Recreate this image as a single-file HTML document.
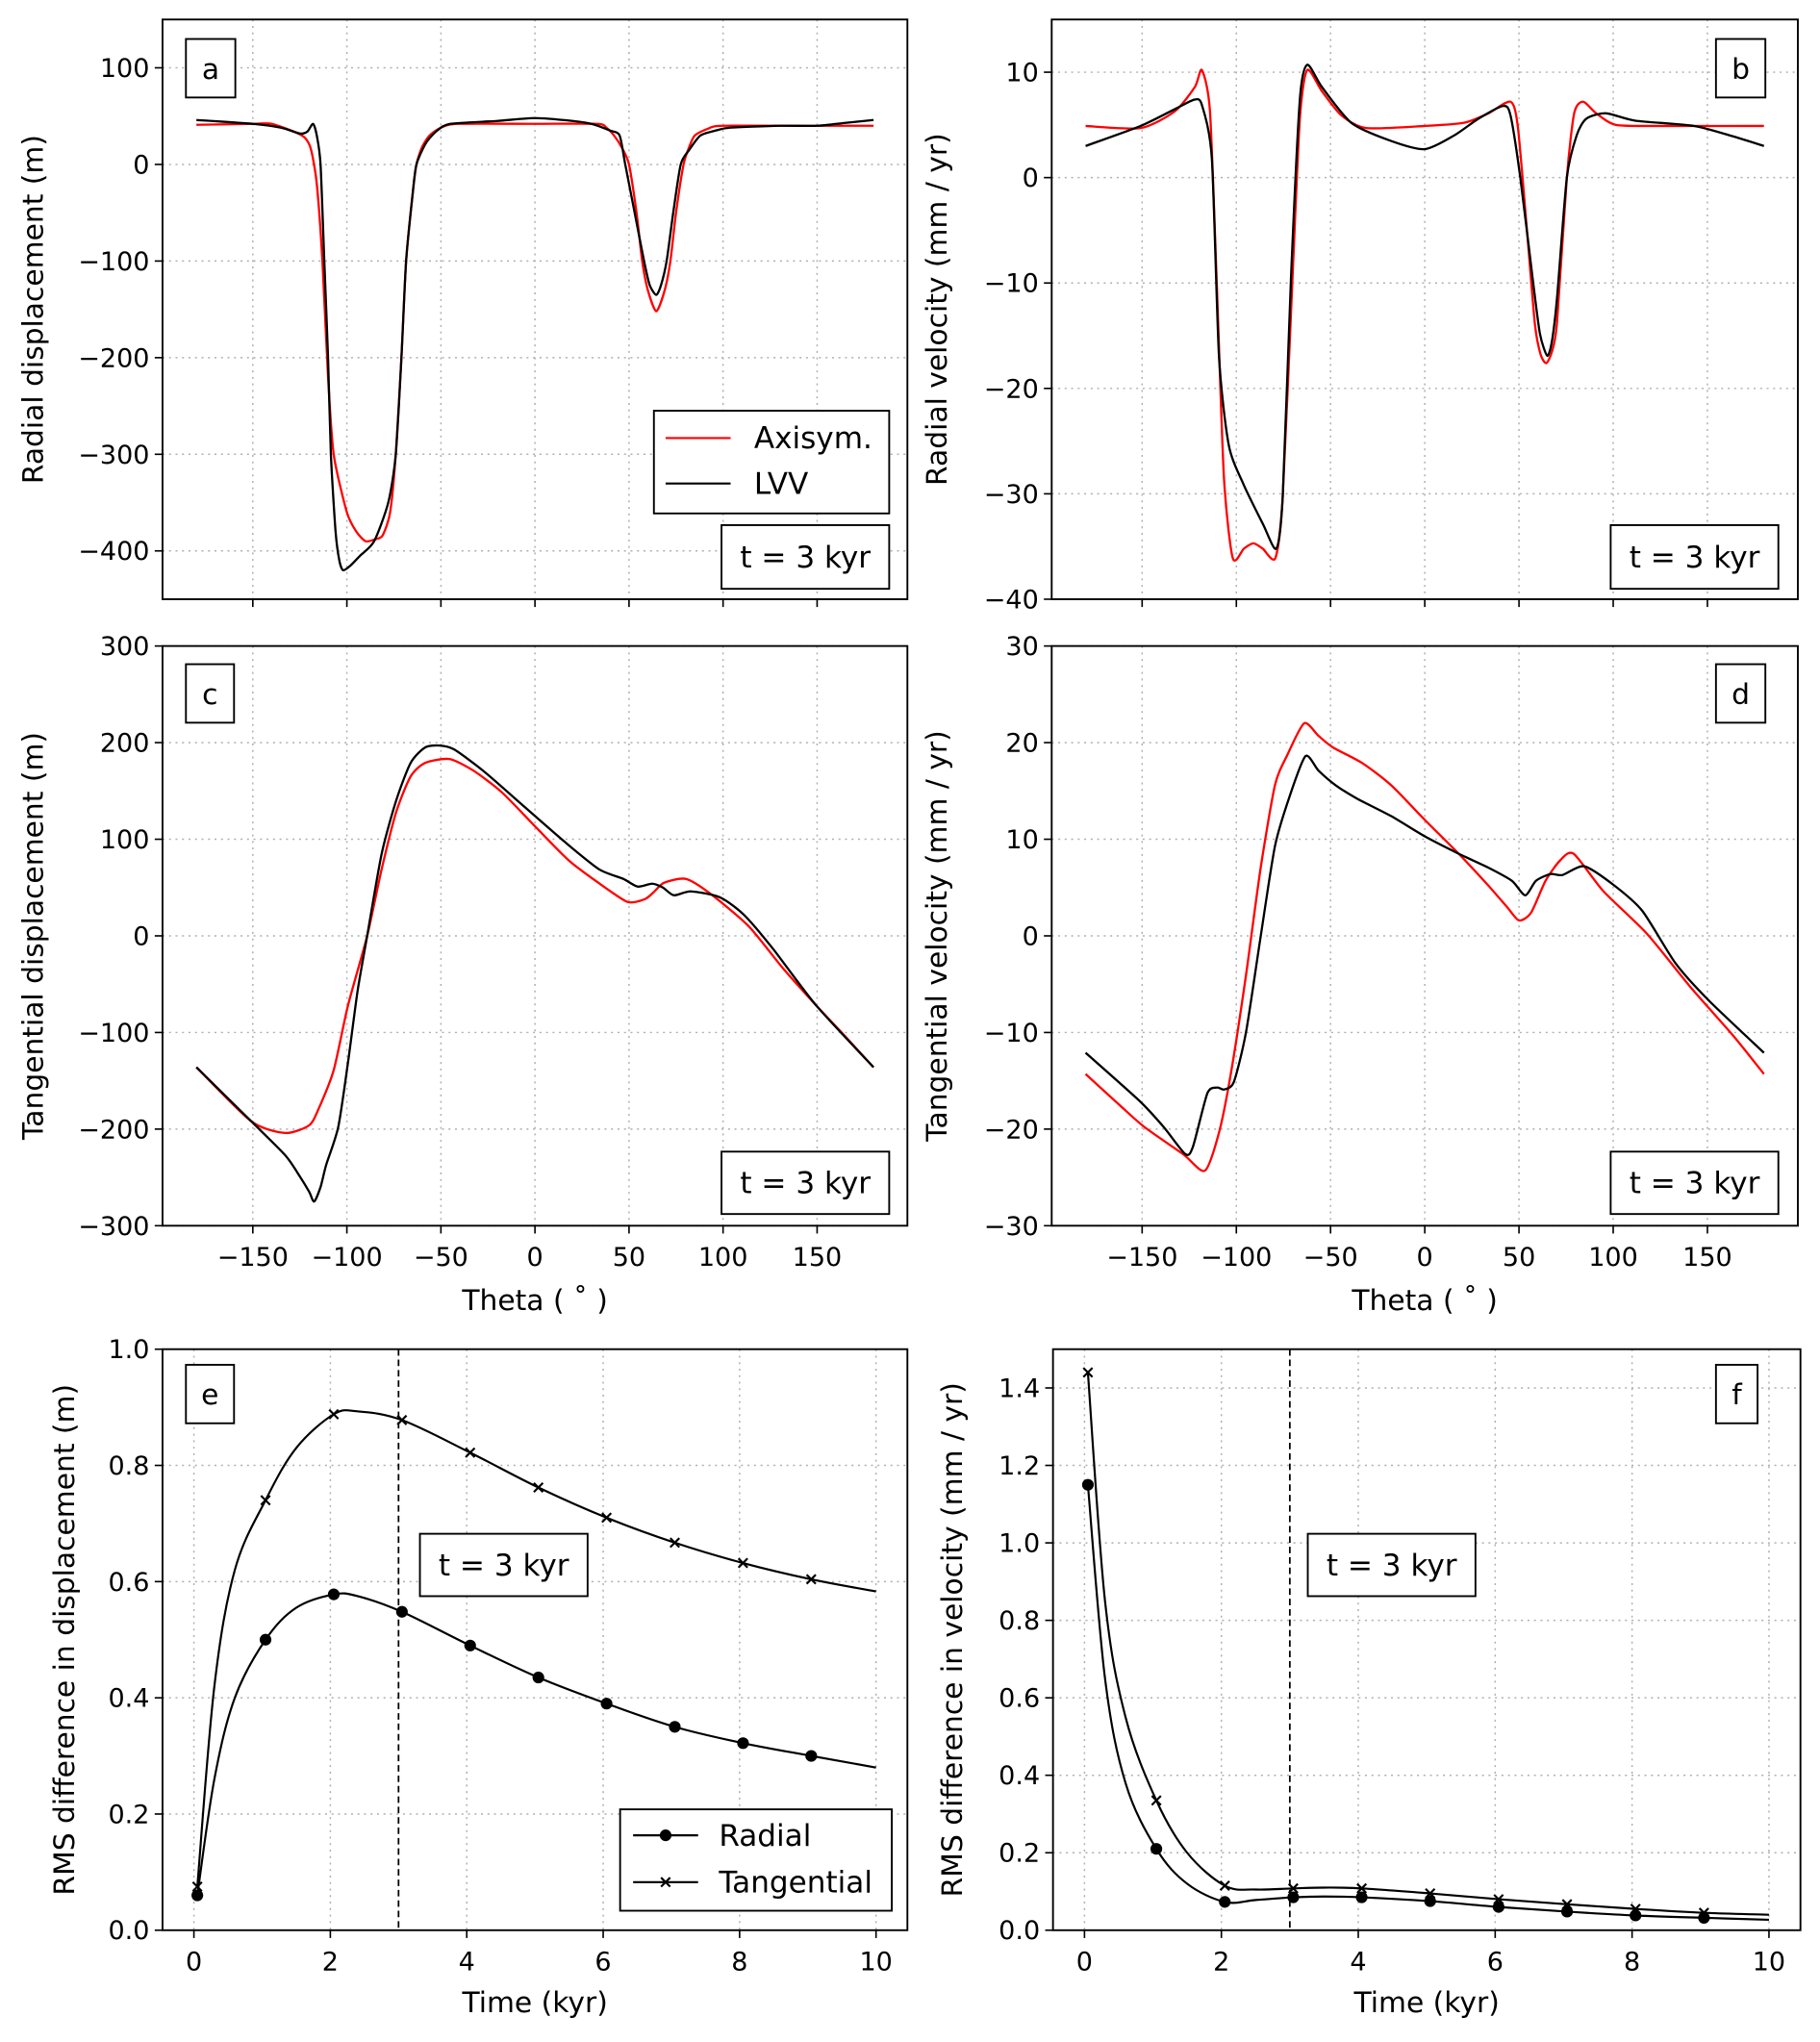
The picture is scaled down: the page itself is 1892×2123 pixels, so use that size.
<!DOCTYPE html>
<html><head><meta charset="utf-8"><style>
html,body{margin:0;padding:0;background:#fff}
svg{display:block}
text{font-family:"DejaVu Sans","Liberation Sans",sans-serif;fill:#000}
</style></head><body>
<svg id="fig" width="1892" height="2123" viewBox="0 0 1400 1571" xmlns="http://www.w3.org/2000/svg"></svg>
<script>
// ---- data (theta in degrees) ----
const aRedT=[-180,-150,-140,-127,-122,-119,-116,-113,-110,-107,-100,-95,-90,-85,-81,-77,-74,-71,-68.5,-65,-63,-60,-56,-50,-41,0,33,38,42,46,50,54,57,60,64.5,69,72,75,79,82,85,92,100,150,180];
const aRedV=[41,42,42,33,27,15,-20,-100,-220,-300,-360,-380,-390,-388,-384,-360,-300,-200,-100,-30,0,18,30,38,42,42,42,38,30,18,0,-50,-100,-130,-152,-130,-100,-50,0,18,30,37,40,40,40];
const aBlkT=[-180,-150,-135,-125,-121,-118,-116,-114,-112,-110,-108.5,-106,-104,-102,-98,-93,-85.5,-78,-74,-71,-68.5,-65,-63,-58,-52,-45,-20,0,20,30,40,45,48,53,58,61,64.5,67,70,73.5,77.5,82,88,96,103.6,130,150,165,180];
const aBlkV=[46,42,38,32,34,42,30,0,-100,-200,-300,-380,-410,-420,-415,-405,-390,-350,-300,-200,-100,-30,0,22,35,42,45,48,45,42,35,30,0,-50,-100,-125,-135,-125,-100,-50,0,15,30,35,38,40,40,43,46];
const bRedT=[-180,-150.8,-132.6,-122,-118.3,-114,-110.5,-106.6,-101.9,-96,-91,-86,-79.3,-75.4,-70.2,-66.3,-62.4,-54.6,-44.2,-31,0,20.8,33.8,45.5,49.4,54.6,58.5,61.5,64.5,67.5,70.2,75.4,79.3,84,91,101.4,124.8,180];
const bRedV=[4.9,4.7,6.3,8.6,10.2,6.3,-9.5,-28.4,-36.1,-35.2,-34.7,-35.2,-36.1,-30.3,-9.5,5.6,10.2,8.2,5.9,4.7,4.9,5.2,6.1,7.2,4.8,-5.8,-14,-16.8,-17.6,-16.5,-13.7,0,6.1,7.2,6.1,5,4.9,4.9];
const bBlkT=[-180,-150.8,-132.6,-122.2,-118.3,-113,-109.2,-104,-96.2,-85.8,-78.8,-75.4,-71,-66.3,-62.4,-54.6,-39,-18.2,0,15.6,28.6,41.6,45.5,50.7,57.2,61.1,65,67.5,70.2,75.4,80.6,85.8,96.2,111.8,143,163.8,180];
const bBlkV=[3.0,4.9,6.5,7.4,6.9,1.8,-17,-25.4,-29.1,-32.9,-35.2,-30.3,-9.5,7.4,10.7,8.6,5.2,3.5,2.7,4.0,5.6,6.8,5.9,0,-9.5,-14.8,-16.9,-15.5,-11.4,0,4.0,5.6,6.1,5.4,4.9,3.9,3.0];
const cRedT=[-180,-150.8,-132.8,-120,-114.8,-107,-99.4,-89.2,-81.5,-73.8,-66.1,-58.4,-45.5,-32.7,-17.3,0.7,18.6,36.6,49.4,58.4,63,68.7,80.2,93,113.6,131.6,149.5,164.9,180];
const cRedV=[-136,-192,-204,-196,-178,-139,-72,0,69,128,165,179,183,171,148,112,77,51,35,38,45,55,59,44,10,-33,-72,-104,-136];
const cBlkT=[-180,-150.8,-132.8,-125,-120,-117.4,-114,-111,-104.6,-99.4,-94.3,-89.2,-81.5,-73.8,-66.1,-58.4,-50.7,-43,-27.6,-7,16,34,46.9,54.6,62.3,68,73.8,82.8,98.2,111,126.4,149.5,180];
const cBlkV=[-136,-192,-227,-249,-265,-275,-260,-237,-198,-131,-57,0,85,140,179,195,197,193,171,136,97,69,59,51,54,50,42,46,40,22,-13,-72,-136];
const dRedT=[-180,-161.5,-148.7,-128.2,-116.7,-109,-102.6,-94.9,-87.2,-79.5,-73,-64,-56.4,-48.7,-33.3,-17.9,0,18,33.3,43.6,50,56.4,64.1,71.8,79,94.9,118,141,164,180];
const dRedV=[-14.3,-17.6,-19.8,-22.6,-24.3,-20.2,-13.9,-4.1,6.9,15.6,18.7,22,20.7,19.5,17.9,15.6,12,8.5,5.3,3,1.6,2.4,5.7,7.8,8.5,4.6,0.2,-5.3,-10.4,-14.3];
const dBlkT=[-180,-151.3,-138.5,-127,-123,-115.4,-110.3,-106.4,-101.3,-94.9,-87.2,-79.5,-71.8,-63.3,-56.4,-47.4,-35.9,-17.9,0,18,33.3,46.2,53.3,59,66.7,73.1,84.6,100,115.4,133.3,151.3,180];
const dBlkV=[-12.1,-17.1,-19.8,-22.6,-21.8,-16.3,-15.7,-15.9,-15.1,-10,-0.2,9.3,14.4,18.6,17.1,15.6,14.2,12.4,10.3,8.5,7.1,5.7,4.2,5.7,6.4,6.3,7.2,5.3,2.6,-2.9,-6.8,-12.1];
// RMS panels
const markT=[0.05,1.05,2.05,3.05,4.05,5.05,6.05,7.05,8.05,9.05];
const eRad=[0.06,0.50,0.578,0.548,0.49,0.435,0.39,0.35,0.322,0.30];
const eTan=[0.075,0.74,0.888,0.878,0.822,0.762,0.71,0.667,0.632,0.604];
const eCurveT=[0.05,0.3,0.6,1.05,1.5,2.05,2.4,3.05,4.05,5.05,6.05,7.05,8.05,9.05,10];
const eRadCurve=[0.06,0.26,0.40,0.50,0.555,0.578,0.575,0.548,0.49,0.435,0.39,0.35,0.322,0.30,0.28];
const eTanCurve=[0.075,0.42,0.62,0.74,0.83,0.888,0.893,0.878,0.822,0.762,0.71,0.667,0.632,0.604,0.583];
const fRad=[1.15,0.21,0.073,0.085,0.085,0.075,0.06,0.048,0.038,0.032];
const fTan=[1.44,0.335,0.115,0.108,0.108,0.095,0.08,0.067,0.055,0.045];
const fCurveT=[0.05,0.3,0.6,1.05,1.5,2.05,2.5,3.05,3.5,4.05,5.05,6.05,7.05,8.05,9.05,10];
const fRadCurve=[1.15,0.65,0.38,0.21,0.12,0.073,0.078,0.085,0.087,0.085,0.075,0.06,0.048,0.038,0.032,0.027];
const fTanCurve=[1.44,0.85,0.55,0.335,0.2,0.115,0.105,0.108,0.11,0.108,0.095,0.08,0.067,0.055,0.045,0.04];
const thetaTicks=[-150,-100,-50,0,50,100,150];
const aTicks=[100,0,-100,-200,-300,-400];
const bTicks=[10,0,-10,-20,-30,-40];
const cTicks=[300,200,100,0,-100,-200,-300];
const dTicks=[30,20,10,0,-10,-20,-30];
const eTicks=[0,0.2,0.4,0.6,0.8,1.0];
const fTicks=[0,0.2,0.4,0.6,0.8,1.0,1.2,1.4];
const timeTicks=[0,2,4,6,8,10];

const NS="http://www.w3.org/2000/svg";
const svg=document.getElementById('fig');
function el(tag,attrs,parent,txt){const e=document.createElementNS(NS,tag);for(const k in attrs)e.setAttribute(k,attrs[k]);if(txt!==undefined)e.textContent=txt;(parent||svg).appendChild(e);return e;}

function panel(name,L,T,R,B,x0,x1,y0,y1){
  const g=el('g',{});
  
  
  return {g,L,T,R,B,sx:v=>L+(v-x0)/(x1-x0)*(R-L),sy:v=>B-(v-y0)/(y1-y0)*(B-T)};
}
function grid(p,xt,yt){
  xt.forEach(v=>{const x=p.sx(v);const l=el('line',{x1:x,x2:x,y1:p.T,y2:p.B,stroke:'#b0b0b0','stroke-width':1.1,'stroke-dasharray':'1.5,3.5'},p.g);});
  yt.forEach(v=>{const y=p.sy(v);const l=el('line',{x1:p.L,x2:p.R,y1:y,y2:y,stroke:'#b0b0b0','stroke-width':1.1,'stroke-dasharray':'1.5,3.5'},p.g);});
}
function fmt(v,dec){const s=dec?v.toFixed(dec):String(v);return s.replace('-','\u2212');}
function axes(p,xt,yt,xlab,ydec,showX){
  xt.forEach(v=>{const x=p.sx(v);el('line',{x1:x,x2:x,y1:p.B,y2:p.B+6,stroke:'#000','stroke-width':1.2},p.g);
    if(showX){const t=el('text',{x:x,y:p.B+31,'font-size':20,'text-anchor':'middle'},p.g,fmt(v,0));}});
  yt.forEach(v=>{const y=p.sy(v);el('line',{x1:p.L-6,x2:p.L,y1:y,y2:y,stroke:'#000','stroke-width':1.2},p.g);
    const t=el('text',{x:p.L-10,y:y+7,'font-size':20,'text-anchor':'end'},p.g,fmt(v,ydec));});
}
function frame(p){const r=el('rect',{x:p.L,y:p.T,width:p.R-p.L,height:p.B-p.T,fill:'none',stroke:'#000','stroke-width':1.4},p.g);}
function smoothPath(p,xs,ys,k){
  const P=xs.map((x,i)=>[p.sx(x),p.sy(ys[i])]);
  let d='M'+P[0][0].toFixed(2)+','+P[0][1].toFixed(2);
  for(let i=0;i<P.length-1;i++){const p0=P[Math.max(0,i-1)],p1=P[i],p2=P[i+1],p3=P[Math.min(P.length-1,i+2)];
    d+='C'+(p1[0]+(p2[0]-p0[0])*k).toFixed(2)+','+(p1[1]+(p2[1]-p0[1])*k).toFixed(2)+' '+(p2[0]-(p3[0]-p1[0])*k).toFixed(2)+','+(p2[1]-(p3[1]-p1[1])*k).toFixed(2)+' '+p2[0].toFixed(2)+','+p2[1].toFixed(2);}
  return d;
}
function line(p,xs,ys,color,name){
  const pa=el('path',{d:smoothPath(p,xs,ys,0.12),fill:'none',stroke:color,'stroke-width':1.7,'stroke-linejoin':'round'},p.g);
  
  
}
function smooth(p,xs,ys,name){
  const pa=el('path',{d:smoothPath(p,xs,ys,1/6),fill:'none',stroke:'#000','stroke-width':1.6},p.g);
  
  
}
function box(p,x,y,w,h,txt,name,fs){
  const r=el('rect',{x:x,y:y,width:w,height:h,fill:'#fff',stroke:'#000','stroke-width':1.4},p.g);
  
  
  const t=el('text',{x:x+w/2,y:y+h/2+8,'font-size':fs||22,'text-anchor':'middle'},p.g,txt);
  
  
}
function ylabel(p,x,txt){const t=el('text',{x:x,y:(p.T+p.B)/2,'font-size':22,'text-anchor':'middle',transform:'rotate(-90 '+x+' '+(p.T+p.B)/2+')'},p.g,txt);}
function xlabel(p,y,txt){const t=el('text',{x:(p.L+p.R)/2,y:y,'font-size':22,'text-anchor':'middle'},p.g,txt);}
function markers(p,xs,ys,kind,name){
  xs.forEach((x,i)=>{const X=p.sx(x),Y=p.sy(ys[i]);let m;
    if(kind==='o'){m=el('circle',{cx:X,cy:Y,r:4.5,fill:'#000'},p.g);}
    else{m=el('path',{d:`M${X-3.5},${Y-3.5}L${X+3.5},${Y+3.5}M${X-3.5},${Y+3.5}L${X+3.5},${Y-3.5}`,stroke:'#000','stroke-width':1.6},p.g);}
    
    });
}
function vdash(p,x){const X=p.sx(x);const l=el('line',{x1:X,x2:X,y1:p.T,y2:p.B,stroke:'#000','stroke-width':1.3,'stroke-dasharray':'5,3'},p.g);}

// Panel a
let p=panel('panel-a',125,15,698,461,-198,198,-450,150);
grid(p,thetaTicks,aTicks);
line(p,aRedT,aRedV,'#ff0000','axisym-line');line(p,aBlkT,aBlkV,'#000','lvv-line');
frame(p);axes(p,thetaTicks,aTicks,null,0,false);ylabel(p,33,'Radial displacement (m)');
box(p,143,30,38,45,'a','panel-label-a');box(p,555,404,129,49,'t = 3 kyr','time-label-a',23);
{const r=el('rect',{x:503,y:316,width:181,height:79,fill:'#fff',stroke:'#000','stroke-width':1.4},p.g);
 el('line',{x1:512,x2:562,y1:337,y2:337,stroke:'#f00','stroke-width':1.6},p.g);
 let t=el('text',{x:580,y:345,'font-size':23},p.g,'Axisym.');
 el('line',{x1:512,x2:562,y1:372,y2:372,stroke:'#000','stroke-width':1.6},p.g);
 t=el('text',{x:580,y:380,'font-size':23},p.g,'LVV');}

// Panel b
p=panel('panel-b',809,15,1383,461,-198,198,-40,15);
grid(p,thetaTicks,bTicks);
line(p,bRedT,bRedV,'#ff0000','axisym-line');line(p,bBlkT,bBlkV,'#000','lvv-line');
frame(p);axes(p,thetaTicks,bTicks,null,0,false);ylabel(p,728,'Radial velocity (mm / yr)');
box(p,1320,30,38,45,'b','panel-label-b');box(p,1239,404,129,49,'t = 3 kyr','time-label-b',23);

// Panel c
p=panel('panel-c',125,497,698,943,-198,198,-300,300);
grid(p,thetaTicks,cTicks);
line(p,cRedT,cRedV,'#ff0000','axisym-line');line(p,cBlkT,cBlkV,'#000','lvv-line');
frame(p);axes(p,thetaTicks,cTicks,null,0,true);ylabel(p,33,'Tangential displacement (m)');xlabel(p,1008,'Theta ( \u02da )');
box(p,143,511,37,45,'c','panel-label-c');box(p,555,886,129,48,'t = 3 kyr','time-label-c',23);

// Panel d
p=panel('panel-d',809,497,1383,943,-198,198,-30,30);
grid(p,thetaTicks,dTicks);
line(p,dRedT,dRedV,'#ff0000','axisym-line');line(p,dBlkT,dBlkV,'#000','lvv-line');
frame(p);axes(p,thetaTicks,dTicks,null,0,true);ylabel(p,728,'Tangential velocity (mm / yr)');xlabel(p,1008,'Theta ( \u02da )');
box(p,1320,511,38,45,'d','panel-label-d');box(p,1239,886,129,48,'t = 3 kyr','time-label-d',23);

// Panel e
p=panel('panel-e',125,1038,698,1485,-0.46,10.46,0,1.0);
grid(p,timeTicks,eTicks);
vdash(p,3);
smooth(p,eCurveT,eRadCurve,'radial-line');smooth(p,eCurveT,eTanCurve,'tangential-line');
markers(p,markT,eRad,'o','radial-marker');markers(p,markT,eTan,'x','tangential-marker');
frame(p);axes(p,timeTicks,eTicks,null,1,true);ylabel(p,57,'RMS difference in displacement (m)');xlabel(p,1548,'Time (kyr)');
box(p,143,1050,37,45,'e','panel-label-e');box(p,323,1180,129,48,'t = 3 kyr','time-label-e',23);
{const r=el('rect',{x:477,y:1392,width:209,height:78,fill:'#fff',stroke:'#000','stroke-width':1.4},p.g);
 el('line',{x1:487,x2:537,y1:1412,y2:1412,stroke:'#000','stroke-width':1.6},p.g);el('circle',{cx:512,cy:1412,r:4.5,fill:'#000'},p.g);
 let t=el('text',{x:553,y:1420,'font-size':23},p.g,'Radial');
 el('line',{x1:487,x2:537,y1:1448,y2:1448,stroke:'#000','stroke-width':1.6},p.g);el('path',{d:'M508.5,1444.5L515.5,1451.5M508.5,1451.5L515.5,1444.5',stroke:'#000','stroke-width':1.6},p.g);
 t=el('text',{x:553,y:1456,'font-size':23},p.g,'Tangential');}

// Panel f
p=panel('panel-f',810,1038,1385,1485,-0.46,10.46,0,1.5);
grid(p,timeTicks,fTicks);
vdash(p,3);
smooth(p,fCurveT,fRadCurve,'radial-line');smooth(p,fCurveT,fTanCurve,'tangential-line');
markers(p,markT,fRad,'o','radial-marker');markers(p,markT,fTan,'x','tangential-marker');
frame(p);axes(p,timeTicks,fTicks,null,1,true);ylabel(p,740,'RMS difference in velocity (mm / yr)');xlabel(p,1548,'Time (kyr)');
box(p,1320,1050,32,45,'f','panel-label-f');box(p,1006,1180,129,48,'t = 3 kyr','time-label-f',23);
</script>
</body></html>
